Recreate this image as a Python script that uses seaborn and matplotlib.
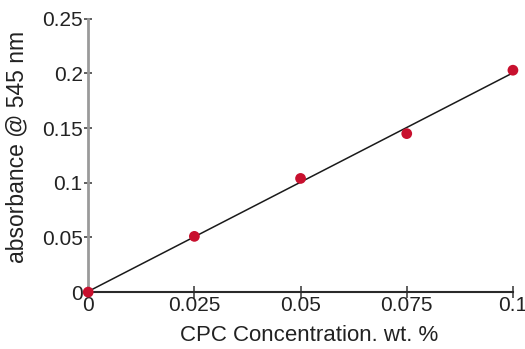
import matplotlib
matplotlib.use("Agg")
import matplotlib.pyplot as plt
import seaborn as sns
import pandas as pd

concentration = [0.0, 0.025, 0.05, 0.075, 0.1]
absorbance = [0.0, 0.051, 0.104, 0.145, 0.203]
x_ticks = [0, 0.025, 0.05, 0.075, 0.1]
x_tick_labels = ["0", "0.025", "0.05", "0.075", "0.1"]
y_ticks = [0, 0.05, 0.1, 0.15, 0.2, 0.25]
y_tick_labels = ["0", "0.05", "0.1", "0.15", "0.2", "0.25"]

df = pd.DataFrame({"conc": concentration, "abs": absorbance})

sns.set_style("white")
plt.rcParams["font.family"] = ["Liberation Sans", "DejaVu Sans"]

fig = plt.figure(figsize=(5.25, 3.49), dpi=100)
ax = fig.add_axes([0.168, 0.163, 0.809, 0.783])

sns.regplot(data=df, x="conc", y="abs", ax=ax, ci=None, truncate=True,
            scatter=False, line_kws=dict(color="#1a1a1a", lw=1.1, zorder=2))
sns.scatterplot(data=df, x="conc", y="abs", ax=ax, color="#c8102e",
                s=60, edgecolor="none", zorder=3, clip_on=False)

ax.set_xlim(0, 0.1)
ax.set_ylim(0, 0.25)
ax.set_xticks(x_ticks)
ax.set_xticklabels(x_tick_labels)
ax.set_yticks(y_ticks)
ax.set_yticklabels(y_tick_labels)

for s in ["top", "right"]:
    ax.spines[s].set_visible(False)
ax.spines["left"].set_color("#9a9a9a")
ax.spines["left"].set_linewidth(2.0)
ax.spines["bottom"].set_color("#2a2a2a")
ax.spines["bottom"].set_linewidth(1.5)

ax.tick_params(axis="y", direction="inout", length=6, width=1.2, color="#444444",
               labelsize=15, pad=1, left=True, labelcolor="#222222")
ax.tick_params(axis="x", direction="inout", length=8, width=1.2, color="#444444",
               labelsize=15, pad=-1, bottom=True, labelcolor="#222222")

ax.set_xlabel("CPC Concentration. wt. %", fontsize=16, color="#222222")
ax.set_ylabel("absorbance @ 545 nm", fontsize=16.5, color="#222222")
ax.xaxis.set_label_coords(0.521, -0.121)
ax.yaxis.set_label_coords(-0.140, 0.531)

fig.savefig("out.png", dpi=100)
